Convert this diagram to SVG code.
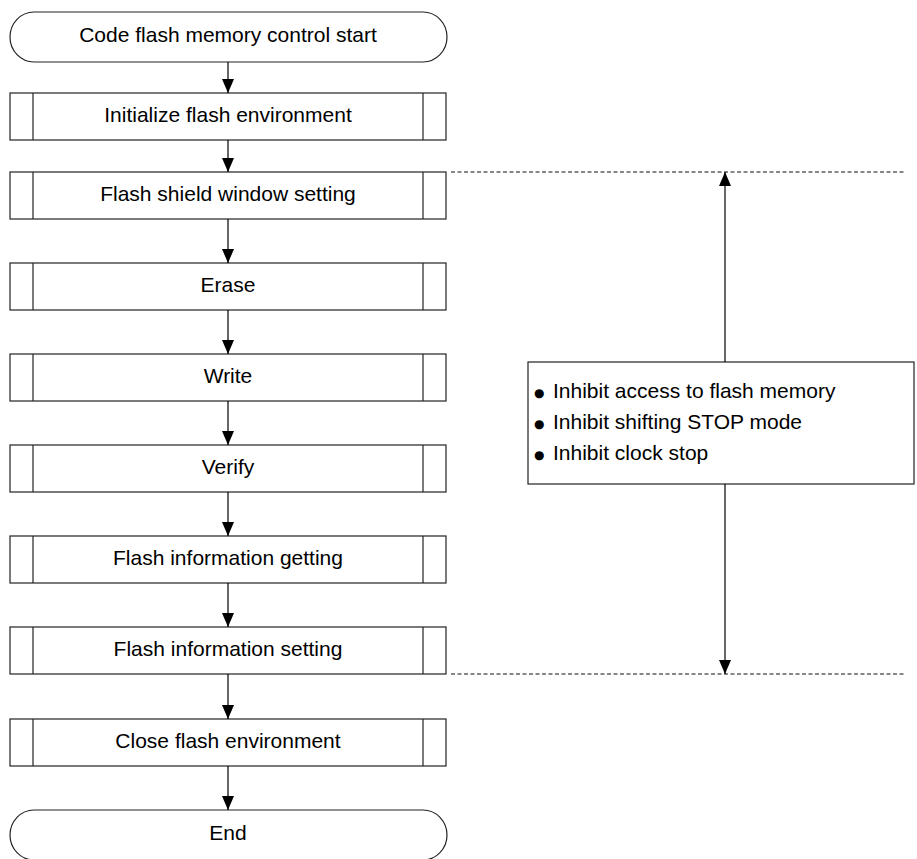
<svg xmlns="http://www.w3.org/2000/svg" width="917" height="859" viewBox="0 0 917 859">
<defs>
<marker id="ah" markerWidth="14" markerHeight="12" refX="14" refY="6" orient="auto" markerUnits="userSpaceOnUse"><path d="M0,0 L14,6 L0,12 z" fill="#000"/></marker>
<style>
.box{fill:#fff;stroke:#222;stroke-width:1.2}
.in{stroke:#222;stroke-width:1.2}
.t{font-family:"Liberation Sans",Arial,sans-serif;font-size:21px;fill:#000;text-anchor:middle}
.n{font-family:"Liberation Sans",Arial,sans-serif;font-size:21px;fill:#000}
.b{font-family:"DejaVu Sans",sans-serif;font-size:12px}
.c{stroke:#000;stroke-width:1.2;fill:none;marker-end:url(#ah)}
.d{stroke:#111;stroke-width:1;stroke-dasharray:4 2.5;fill:none}
</style>
</defs>
<rect width="917" height="859" fill="#fff"/>
<g id="start"><rect class="box" x="10" y="12" width="437" height="50" rx="24" ry="25"/><text class="t" x="228" y="42">Code flash memory control start</text></g>
<g id="init"><rect class="box" x="10" y="93" width="436" height="47"/><line class="in" x1="33" y1="93" x2="33" y2="140"/><line class="in" x1="423" y1="93" x2="423" y2="140"/><text class="t" x="228" y="122">Initialize flash environment</text></g>
<g id="shield"><rect class="box" x="10" y="172" width="436" height="47"/><line class="in" x1="33" y1="172" x2="33" y2="219"/><line class="in" x1="423" y1="172" x2="423" y2="219"/><text class="t" x="228" y="201">Flash shield window setting</text></g>
<g id="erase"><rect class="box" x="10" y="263" width="436" height="47"/><line class="in" x1="33" y1="263" x2="33" y2="310"/><line class="in" x1="423" y1="263" x2="423" y2="310"/><text class="t" x="228" y="292">Erase</text></g>
<g id="write"><rect class="box" x="10" y="354" width="436" height="47"/><line class="in" x1="33" y1="354" x2="33" y2="401"/><line class="in" x1="423" y1="354" x2="423" y2="401"/><text class="t" x="228" y="383">Write</text></g>
<g id="verify"><rect class="box" x="10" y="445" width="436" height="47"/><line class="in" x1="33" y1="445" x2="33" y2="492"/><line class="in" x1="423" y1="445" x2="423" y2="492"/><text class="t" x="228" y="474">Verify</text></g>
<g id="infoget"><rect class="box" x="10" y="536" width="436" height="47"/><line class="in" x1="33" y1="536" x2="33" y2="583"/><line class="in" x1="423" y1="536" x2="423" y2="583"/><text class="t" x="228" y="565">Flash information getting</text></g>
<g id="infoset"><rect class="box" x="10" y="627" width="436" height="47"/><line class="in" x1="33" y1="627" x2="33" y2="674"/><line class="in" x1="423" y1="627" x2="423" y2="674"/><text class="t" x="228" y="656">Flash information setting</text></g>
<g id="close"><rect class="box" x="10" y="719" width="436" height="47"/><line class="in" x1="33" y1="719" x2="33" y2="766"/><line class="in" x1="423" y1="719" x2="423" y2="766"/><text class="t" x="228" y="748">Close flash environment</text></g>
<g id="end"><rect class="box" x="10" y="810" width="437" height="50" rx="24" ry="25"/><text class="t" x="228" y="840">End</text></g>
<g id="note"><rect class="box" x="528" y="362" width="386" height="122"/>
<text class="n" x="534" y="398"><tspan class="b" dy="-1">●</tspan><tspan x="553" dy="1">Inhibit access to flash memory</tspan></text>
<text class="n" x="534" y="429"><tspan class="b" dy="-1">●</tspan><tspan x="553" dy="1">Inhibit shifting STOP mode</tspan></text>
<text class="n" x="534" y="460"><tspan class="b" dy="-1">●</tspan><tspan x="553" dy="1">Inhibit clock stop</tspan></text>
</g>
<g id="connectors">
<line class="c" x1="228" y1="62" x2="228" y2="93"/>
<line class="c" x1="228" y1="140" x2="228" y2="172"/>
<line class="c" x1="228" y1="219" x2="228" y2="263"/>
<line class="c" x1="228" y1="310" x2="228" y2="354"/>
<line class="c" x1="228" y1="401" x2="228" y2="445"/>
<line class="c" x1="228" y1="492" x2="228" y2="536"/>
<line class="c" x1="228" y1="583" x2="228" y2="627"/>
<line class="c" x1="228" y1="674" x2="228" y2="719"/>
<line class="c" x1="228" y1="766" x2="228" y2="810"/>
<line class="c" x1="725" y1="362" x2="725" y2="172"/>
<line class="c" x1="725" y1="484" x2="725" y2="674"/>
<line class="d" x1="451" y1="172" x2="905" y2="172"/>
<line class="d" x1="451" y1="674" x2="905" y2="674"/>
</g>
</svg>
